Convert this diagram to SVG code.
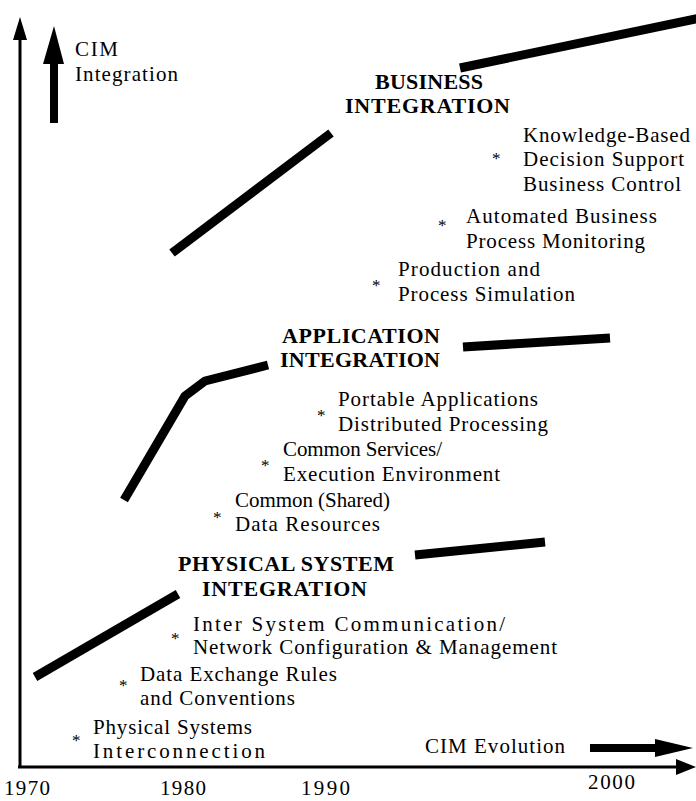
<svg xmlns="http://www.w3.org/2000/svg" width="696" height="801" viewBox="0 0 696 801">
<style>
text{font-family:"Liberation Serif","Times New Roman",Times,serif;fill:#000}
.t{font-size:21px}
.b{font-size:22px;font-weight:bold}
.s{font-size:17px}
.th{fill:none;stroke:#000;stroke-width:9;stroke-linejoin:round}
</style>
<rect width="696" height="801" fill="#fff"/>
<g id="axes">
<line x1="20" y1="36" x2="20" y2="768" stroke="#000" stroke-width="3"/>
<polygon points="20,17 27,40 13,40" fill="#000"/>
<line x1="18" y1="767" x2="680" y2="767" stroke="#000" stroke-width="3"/>
<polygon points="696,767 676,759 676,775" fill="#000"/>
<text class="t" x="4" y="795" textLength="46" lengthAdjust="spacing">1970</text>
<text class="t" x="160" y="795" textLength="46" lengthAdjust="spacing">1980</text>
<text class="t" x="301" y="795" textLength="49" lengthAdjust="spacing">1990</text>
<text class="t" x="588" y="789" textLength="47" lengthAdjust="spacing">2000</text>
</g>
<g id="cim-integration">
<line x1="54" y1="60" x2="54" y2="123" stroke="#000" stroke-width="8"/>
<polygon points="54,26 64,64 43,64" fill="#000"/>
<text class="t" x="75" y="56" textLength="43" lengthAdjust="spacing">CIM</text>
<text class="t" x="75" y="81" textLength="103" lengthAdjust="spacing">Integration</text>
</g>
<g id="cim-evolution">
<text class="t" x="425" y="753" textLength="140" lengthAdjust="spacing">CIM Evolution</text>
<line x1="590" y1="748" x2="660" y2="748" stroke="#000" stroke-width="8"/>
<polygon points="693,748 655,739 655,757" fill="#000"/>
</g>
<g id="connectors">
<line class="th" x1="460" y1="68" x2="700" y2="18"/>
<line class="th" x1="172" y1="253" x2="331" y2="133"/>
<line class="th" x1="463" y1="347" x2="610" y2="338"/>
<polyline class="th" points="124,500 185,396 205,381 268,365"/>
<line class="th" x1="415" y1="555" x2="545" y2="542"/>
<line class="th" x1="35" y1="677" x2="178" y2="594"/>
</g>
<g id="business">
<text class="b" x="375" y="89" textLength="108" lengthAdjust="spacing">BUSINESS</text>
<text class="b" x="345" y="113" textLength="165" lengthAdjust="spacing">INTEGRATION</text>
</g>
<g id="knowledge">
<text class="s" x="492" y="164">*</text>
<text class="t" x="523" y="142" textLength="167" lengthAdjust="spacing">Knowledge-Based</text>
<text class="t" x="523" y="166" textLength="161" lengthAdjust="spacing">Decision Support</text>
<text class="t" x="523" y="191" textLength="158" lengthAdjust="spacing">Business Control</text>
</g>
<g id="automated">
<text class="s" x="438" y="231">*</text>
<text class="t" x="466" y="223" textLength="191" lengthAdjust="spacing">Automated Business</text>
<text class="t" x="466" y="248" textLength="179" lengthAdjust="spacing">Process Monitoring</text>
</g>
<g id="production">
<text class="s" x="372" y="291">*</text>
<text class="t" x="398" y="276" textLength="142" lengthAdjust="spacing">Production and</text>
<text class="t" x="398" y="301" textLength="177" lengthAdjust="spacing">Process Simulation</text>
</g>
<g id="application">
<text class="b" x="282" y="343" textLength="158" lengthAdjust="spacing">APPLICATION</text>
<text class="b" x="280" y="367" textLength="160" lengthAdjust="spacing">INTEGRATION</text>
</g>
<g id="portable">
<text class="s" x="317" y="421">*</text>
<text class="t" x="338" y="406" textLength="200" lengthAdjust="spacing">Portable Applications</text>
<text class="t" x="338" y="431" textLength="210" lengthAdjust="spacing">Distributed Processing</text>
</g>
<g id="services">
<text class="s" x="261" y="471">*</text>
<text class="t" x="283" y="456" textLength="159" lengthAdjust="spacing">Common Services/</text>
<text class="t" x="283" y="481" textLength="217" lengthAdjust="spacing">Execution Environment</text>
</g>
<g id="shared">
<text class="s" x="213" y="523">*</text>
<text class="t" x="235" y="507" textLength="155" lengthAdjust="spacing">Common (Shared)</text>
<text class="t" x="235" y="531" textLength="145" lengthAdjust="spacing">Data Resources</text>
</g>
<g id="physical">
<text class="b" x="178" y="571" textLength="216" lengthAdjust="spacing">PHYSICAL SYSTEM</text>
<text class="b" x="202" y="596" textLength="165" lengthAdjust="spacing">INTEGRATION</text>
</g>
<g id="intersystem">
<text class="s" x="171" y="644">*</text>
<text class="t" x="193" y="631" textLength="312" lengthAdjust="spacing">Inter System Communication/</text>
<text class="t" x="193" y="654" textLength="364" lengthAdjust="spacing">Network Configuration &amp; Management</text>
</g>
<g id="exchange">
<text class="s" x="119" y="691">*</text>
<text class="t" x="140" y="681" textLength="197" lengthAdjust="spacing">Data Exchange Rules</text>
<text class="t" x="140" y="705" textLength="155" lengthAdjust="spacing">and Conventions</text>
</g>
<g id="interconnection">
<text class="s" x="72" y="746">*</text>
<text class="t" x="93" y="734" textLength="159" lengthAdjust="spacing">Physical Systems</text>
<text class="t" x="93" y="758" textLength="172" lengthAdjust="spacing">Interconnection</text>
</g>
</svg>
